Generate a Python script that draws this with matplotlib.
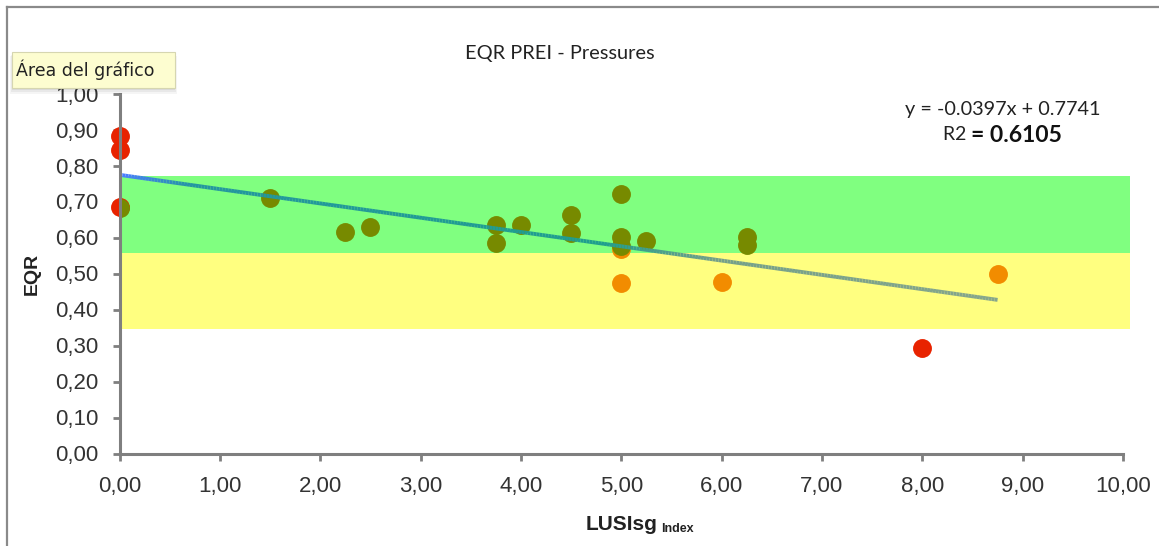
import numpy as np
import matplotlib
matplotlib.use("Agg")
import matplotlib.pyplot as plt
from matplotlib.ticker import FuncFormatter
from matplotlib.collections import LineCollection
from matplotlib.colors import LinearSegmentedColormap
from matplotlib.patches import Rectangle
from matplotlib.lines import Line2D

# ---------------- data ----------------
title = "EQR PREI - Pressures"
x_label = "LUSIsg"
x_label_sub = "Index"
y_label = "EQR"

good_x = [0.0, 1.5, 2.25, 2.5, 3.75, 3.75, 4.0, 4.5, 4.5, 5.0, 5.0, 5.0, 5.25, 6.25, 6.25]
good_y = [0.681, 0.709, 0.616, 0.630, 0.635, 0.586, 0.635, 0.662, 0.613, 0.721, 0.601, 0.576, 0.591, 0.602, 0.579]

moderate_x = [5.0, 5.0, 6.0, 8.75]
moderate_y = [0.568, 0.473, 0.477, 0.499]

bad_x = [0.0, 0.0, 0.0, 8.0]
bad_y = [0.882, 0.843, 0.686, 0.294]

trend_slope = -0.0397
trend_intercept = 0.7741
r2 = 0.6105

band_lower = [0.557, 0.346]
band_upper = [0.770, 0.557]
band_colors = ["#80ff80", "#ffff80"]
band_x_end = 10.07

x_ticks = np.arange(0, 10.01, 1.0)
y_ticks = np.arange(0, 1.001, 0.1)

# ---------------- figure ----------------
W, H, DPI = 1159, 546, 100
fig = plt.figure(figsize=(W / DPI, H / DPI), dpi=DPI, facecolor="white")

ax = fig.add_axes([119.5 / W, (H - 453.5) / H, (1123 - 119.5) / W, (453.5 - 93.5) / H])
ax.set_facecolor("none")
ax.set_xlim(0, 10)
ax.set_ylim(0, 1)

# bands
for lo, hi, c in zip(band_lower, band_upper, band_colors):
    ax.fill_between([0, band_x_end], [lo, lo], [hi, hi], color=c, lw=0, zorder=1, clip_on=False)

# points
ms = 185
ax.scatter(bad_x, bad_y, s=ms, color="#e82300", lw=0, zorder=3, clip_on=False)
ax.scatter(moderate_x, moderate_y, s=ms, color="#f28c00", lw=0, zorder=3.5, clip_on=False)
ax.scatter(good_x, good_y, s=ms, color="#778a00", lw=0, zorder=4, clip_on=True)

# trend line with colour gradient
tx = np.linspace(0, max(good_x + moderate_x + bad_x), 300)
ty = trend_intercept + trend_slope * tx
pts = np.array([tx, ty]).T.reshape(-1, 1, 2)
segs = np.concatenate([pts[:-1], pts[1:]], axis=1)
cmap = LinearSegmentedColormap.from_list(
    "trend", [(0.0, "#4a7cff"), (0.08, "#2496a0"), (0.55, "#1f9e8e"),
              (0.68, "#74a08a"), (1.0, "#86a68c")])
lc = LineCollection(segs, cmap=cmap, linewidths=2.8, zorder=5, capstyle="butt")
lc.set_array(np.linspace(0, 1, len(segs)))
ax.add_collection(lc)

# axes styling
for s in ["top", "right"]:
    ax.spines[s].set_visible(False)
for s in ["left", "bottom"]:
    ax.spines[s].set_color("#7f7f7f")
    ax.spines[s].set_linewidth(2.2)
    ax.spines[s].set_zorder(6)

ax.set_xticks(x_ticks)
ax.set_yticks(y_ticks)
fmt = FuncFormatter(lambda v, p: f"{v:.2f}".replace(".", ","))
ax.xaxis.set_major_formatter(fmt)
ax.yaxis.set_major_formatter(fmt)
ax.tick_params(axis="both", direction="out", length=5, width=2, color="#7f7f7f",
               labelsize=16, labelcolor="#333333")
ax.tick_params(axis="y", pad=10)
ax.tick_params(axis="x", pad=11)
for lab in ax.get_xticklabels() + ax.get_yticklabels():
    lab.set_fontfamily("Liberation Sans")

xl = ax.set_xlabel(x_label, fontfamily="Liberation Sans", fontweight="bold",
                   fontsize=15, color="#222222", labelpad=13)
ax.annotate(x_label_sub, xy=(1, 0), xycoords=xl, xytext=(3, -1), textcoords="offset points",
            fontfamily="Liberation Sans", fontweight="bold", fontsize=9, color="#222222",
            ha="left", va="bottom")
ax.set_ylabel(y_label, fontfamily="Liberation Sans", fontweight="bold",
              fontsize=14, color="#222222", labelpad=8)
ax.yaxis.set_label_coords(-79 / (1123 - 119.5), (453.5 - 274) / 360)

# title and equation
fig.text(560 / W, 1 - 53 / H, title, ha="center", va="center",
         fontfamily="Lato", fontsize=14.4, color="#222222")
fig.text(1003 / W, 1 - 110 / H, f"y = {trend_slope:.4f}x + {trend_intercept:.4f}",
         ha="center", va="center", fontfamily="Lato", fontsize=14.3, color="#222222")
t1 = fig.text(943 / W, 1 - 135 / H, "R2 ", ha="left", va="center",
              fontfamily="Lato", fontsize=14, color="#222222")
fig.canvas.draw()
ax.annotate(f"= {r2:.4f}", xy=(1, 0.5), xycoords=t1, ha="left", va="center",
            fontfamily="Lato", fontweight="bold", fontsize=16.5, color="#111111")

# outer chart frame (left and top edges)
fig.add_artist(Line2D([7 / W, 7 / W], [0, 1 - 7 / H], transform=fig.transFigure,
                      color="#8a8a8a", lw=1.6))
fig.add_artist(Line2D([7 / W, 1], [1 - 7 / H, 1 - 7 / H], transform=fig.transFigure,
                      color="#8a8a8a", lw=1.6))

# tooltip "Área del gráfico"
for i, a in enumerate([0.06, 0.05, 0.04]):
    off = 2 + i * 2
    fig.add_artist(Rectangle(((12 - i) / W, 1 - (88 + off) / H), (163 + 2 * i) / W, (36 + i) / H,
                             transform=fig.transFigure, facecolor="black", alpha=a,
                             edgecolor="none", zorder=9))
fig.add_artist(Rectangle((12 / W, 1 - 88 / H), 163 / W, 36 / H, transform=fig.transFigure,
                         facecolor="#fdfdd0", edgecolor="#d6d6b0", lw=0.8, zorder=10))
fig.text(16 / W, 1 - 70 / H, "Área del gráfico", ha="left", va="center",
         fontfamily="DejaVu Sans", fontsize=12.5, color="#222222", zorder=11)

fig.savefig("out.png", dpi=DPI, facecolor="white")
